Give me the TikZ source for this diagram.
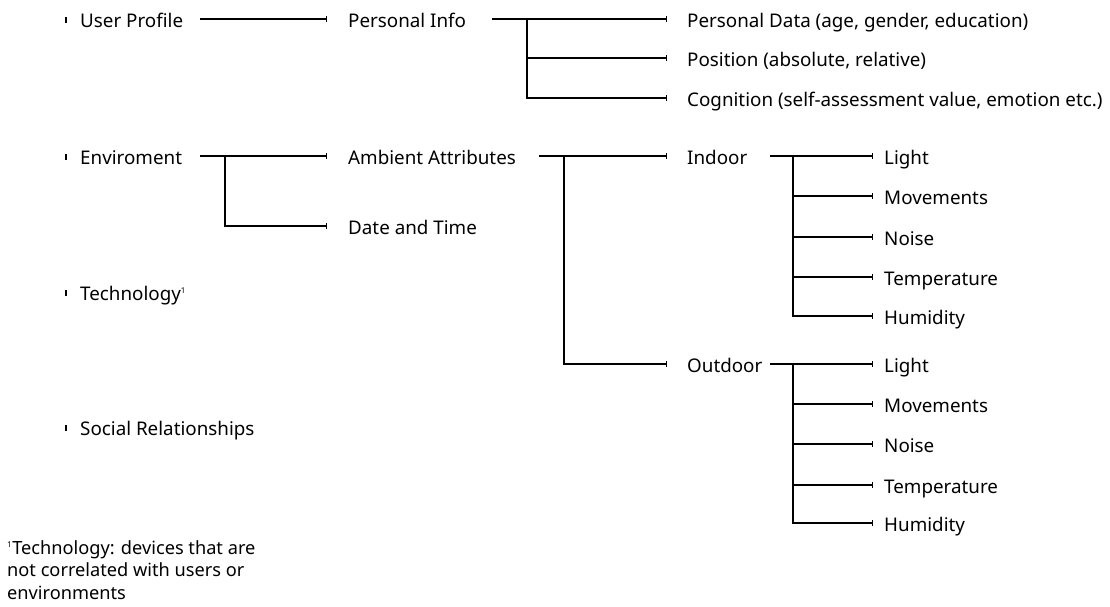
\documentclass[tikz,border=0pt]{standalone}
\usepackage{fontspec}
\setmainfont{Noto Sans}
\usetikzlibrary{arrows.meta}
\begin{document}
\begin{tikzpicture}[x=1pt,y=-1pt,
  lbl/.style={anchor=west,inner sep=0pt,text height=18pt,text depth=2pt,
    font=\fontsize{18.8}{22}\selectfont},
  conn/.style={line width=1.8pt,-{Bar[width=6pt,line width=1.1pt]}},
  bullet/.style={line width=1.4pt}]
\useasboundingbox (0,0) rectangle (1110,606);

% top-level categories
\node[lbl] (up)  at (80,19)  {User Profile};
\node[lbl] (env) at (80,156) {Enviroment};
\node[lbl] (tec) at (80,292) {Technology\textsuperscript{\fontsize{8}{8}\selectfont 1}};
\node[lbl] (soc) at (80,427) {Social Relationships};
\foreach \n in {up,env,tec,soc}
  \draw[bullet] ([xshift=-14pt,yshift=-3.8pt]\n.west) -- ++(0,-5.6);

% second level
\node[lbl] (pi)  at (348,19)  {Personal Info};
\node[lbl] (aa)  at (348,156) {Ambient Attributes};
\node[lbl] (dt)  at (348,226) {Date and Time};

% third level
\node[lbl] (pd)  at (687,19)  {Personal Data (age, gender, education)};
\node[lbl] (pos) at (687,58)  {Position (absolute, relative)};
\node[lbl] (cog) at (687,98)  {Cognition (self-assessment value, emotion etc.)};
\node[lbl] (ind) at (687,156) {Indoor};
\node[lbl] (out) at (687,364) {Outdoor};

% leaves
\foreach \t/\yi/\yo [count=\i from 0] in {Light/156/364,Movements/196/404,Noise/237/444,Temperature/277/485,Humidity/316/523}{
  \node[lbl] (in\i) at (884,\yi) {\t};
  \node[lbl] (od\i) at (884,\yo) {\t};
}

% fork points
\coordinate (upS) at (200,19);
\coordinate (piS) at (492,19);
\coordinate (piF) at (527,19);
\coordinate (enS) at (200,156);
\coordinate (enF) at (225,156);
\coordinate (aaS) at (539,156);
\coordinate (aaF) at (564,156);
\coordinate (inS) at (770,156);
\coordinate (inF) at (793,156);
\coordinate (odS) at (770,364);
\coordinate (odF) at (793,364);

% User Profile
\draw[conn] (upS) -- ([xshift=-21pt]pi.west|-upS);
\draw[conn] (piS) -- ([xshift=-20pt]pd.west|-piS);
\draw[conn] (piF) |- ([xshift=-20pt]pos.west);
\draw[conn] (piF) |- ([xshift=-20pt]cog.west);

% Environment
\draw[conn] (enS) -- ([xshift=-21pt]aa.west|-enS);
\draw[conn] (enF) |- ([xshift=-21pt]dt.west);
\draw[conn] (aaS) -- ([xshift=-20pt]ind.west|-aaS);
\draw[conn] (aaF) |- ([xshift=-20pt]out.west);

% Indoor / Outdoor leaves
\draw[conn] (inS) -- ([xshift=-11pt]in0.west|-inS);
\draw[conn] (odS) -- ([xshift=-11pt]od0.west|-odS);
\foreach \i in {1,...,4}{
  \draw[conn] (inF) |- ([xshift=-11pt]in\i.west);
  \draw[conn] (odF) |- ([xshift=-11pt]od\i.west);
}

% footnote
\node[anchor=north west,inner sep=0pt,align=left,font=\fontsize{18.2}{22.5}\selectfont] (fn) at (7,540)
  {\textsuperscript{\fontsize{8}{8}\selectfont 1}Technology: devices that are\\not correlated with users or\\environments};
\end{tikzpicture}
\end{document}
